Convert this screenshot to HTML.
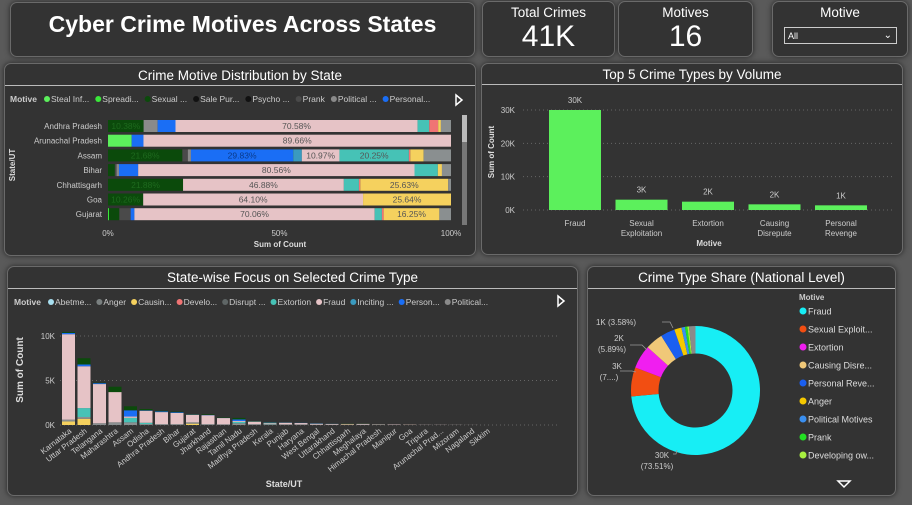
<!DOCTYPE html>
<html><head><meta charset="utf-8">
<style>
body{margin:0;width:912px;height:505px;overflow:hidden;background:#5a5a5a;font-family:"Liberation Sans",sans-serif;color:#fff;position:relative}
.p{position:absolute;background:#333;border:1px solid #6a6a6a;border-radius:7px;box-shadow:0 0 6px rgba(0,0,0,.6)}
.t{position:absolute;left:0;right:0;text-align:center;font-size:13.5px;color:#fff}
.hr{position:absolute;left:0;right:0;height:1px;background:#bbb}
svg{position:absolute;left:0;top:0}
text{font-family:"Liberation Sans",sans-serif}
</style></head><body>
<div class="p" style="left:10px;top:2px;width:463px;height:53px">
 <div class="t" style="top:8px;font-size:23px;font-weight:bold">Cyber Crime Motives Across States</div></div>
<div class="p" style="left:482px;top:1px;width:131px;height:54px">
 <div class="t" style="top:3px;font-size:13.5px">Total Crimes</div><div class="t" style="top:18px;font-size:30px">41K</div></div>
<div class="p" style="left:618px;top:1px;width:133px;height:54px">
 <div class="t" style="top:3px;font-size:13.5px">Motives</div><div class="t" style="top:18px;font-size:30px">16</div></div>
<div class="p" style="left:772px;top:1px;width:134px;height:54px">
 <div class="t" style="top:3px;font-size:13.5px">Motive</div>
 <div style="position:absolute;left:11px;top:25px;height:17px;border:1px solid #ccc;font-size:9px;line-height:17px;padding-left:3px;box-sizing:border-box;width:113px">All<span style="position:absolute;right:4px;top:-1px;font-size:10px">&#8964;</span></div></div>

<div class="p" style="left:4px;top:63px;width:470px;height:191px">
 <div class="t" style="top:4px">Crime Motive Distribution by State</div><div class="hr" style="top:21px"></div></div>
<div class="p" style="left:481px;top:63px;width:420px;height:190px">
 <div class="t" style="top:3px">Top 5 Crime Types by Volume</div><div class="hr" style="top:20px"></div></div>
<div class="p" style="left:7px;top:266px;width:569px;height:228px">
 <div class="t" style="top:3px">State-wise Focus on Selected Crime Type</div><div class="hr" style="top:21px"></div></div>
<div class="p" style="left:587px;top:266px;width:307px;height:228px">
 <div class="t" style="top:3px">Crime Type Share (National Level)</div><div class="hr" style="top:21px"></div></div>

<svg id="s" width="912" height="505"></svg>
<script>
// ---- Panel 1: 100% stacked bars
const p1States=["Andhra Pradesh","Arunachal Pradesh","Assam","Bihar","Chhattisgarh","Goa","Gujarat"];
const p1Motives=["Steal Inf","Spreading","Sexual","Prank","Political","Personal","Inciting","Fraud","Extortion","Developing","Causing","Anger"];
const p1Colors=["#5cf05c","#3ae83a","#0b4a0b","#4a4a4a","#8a8a8a","#1a6ef5","#3a9abf","#e6c3c6","#46c2b6","#f07474","#f5d15e","#8a8f90"];
const p1Pct=[
 [0,0,10.38,0,4.1,5.2,0,70.58,3.4,2.6,0.8,2.94],
 [6.9,0,0,0,0,3.44,0,89.66,0,0,0,0],
 [0,0,21.68,1.6,0.9,29.83,2.5,10.97,20.25,0.4,3.9,7.97],
 [0,0,2,0.5,0.7,5.6,0,80.56,6.8,0,1.2,2.64],
 [0,0,21.88,0,0,0,0,46.88,4.4,0.4,25.63,0.81],
 [0,0,10.26,0,0,0,0,64.10,0,0,25.64,0],
 [0,0.3,3,3.3,0,1.1,0,70.06,2.1,0.5,16.25,3.39]];
const p1Legend=["Steal Inf...","Spreadi...","Sexual ...","Sale Pur...","Psycho ...","Prank","Political ...","Personal..."];
const p1LegendColors=["#5cf05c","#3ae83a","#0b4a0b","#111","#111","#4a4a4a","#8a8a8a","#1a6ef5"];
const p1Ticks=[0,50,100];
// ---- Panel 2: top 5
const t5Cats=[["Fraud"],["Sexual","Exploitation"],["Extortion"],["Causing","Disrepute"],["Personal","Revenge"]];
const t5Vals=[30000,3100,2500,1700,1400];
const t5Labels=["30K","3K","2K","2K","1K"];
const t5Ticks=[0,10000,20000,30000];
// ---- Panel 3: state-wise stacked
const swStates=["Karnataka","Uttar Pradesh","Telangana","Maharashtra","Assam","Odisha","Andhra Pradesh","Bihar","Gujarat","Jharkhand","Rajasthan","Tamil Nadu","Madhya Pradesh","Kerala","Punjab","Haryana","West Bengal","Uttarakhand","Chhattisgarh","Meghalaya","Himachal Pradesh","Manipur","Goa","Tripura","Arunachal Prad...","Mizoram","Nagaland","Sikkim"];
const swCausing=[400,700,0,0,0,0,0,0,150,0,0,0,0,0,0,0,0,0,40,0,0,0,10,0,0,0,0,0];
const swOther=[200,200,200,300,300,100,100,100,150,100,80,200,100,100,80,80,50,60,40,60,40,30,0,10,10,10,5,0];
const swExtortion=[0,1000,0,0,500,150,0,0,0,0,0,150,0,50,0,0,0,0,0,0,0,0,0,0,0,0,0,0];
const swFraud=[9600,4700,4400,3400,150,1350,1350,1250,850,1000,700,100,280,100,180,140,100,60,40,70,40,40,30,15,15,10,5,0];
const swPersonal=[150,200,100,0,700,50,80,80,20,30,20,180,20,30,20,20,30,10,0,0,0,0,0,0,0,0,0,0];
const swSexual=[100,700,50,600,450,150,70,70,40,70,50,170,50,50,20,10,20,10,20,20,10,0,0,0,0,0,0,0];
const swSeries=[swCausing,swOther,swExtortion,swFraud,swPersonal,swSexual];
const swColors=["#f5d15e","#8a8f90","#46c2b6","#e6c3c6","#1a6ef5","#0b4a0b"];
const swTicks=[0,5000,10000];
const swTickLabels=["0K","5K","10K"];
const swLegend=["Abetme...","Anger","Causin...","Develo...","Disrupt ...","Extortion","Fraud","Inciting ...","Person...","Political..."];
const swLegendColors=["#a8dff0","#7a8080","#f5d15e","#f07474","#5f6666","#46c2b6","#e6c3c6","#3a9abf","#1a6ef5","#8a8a8a"];
// ---- Panel 4: donut
const dnNames=["Fraud","Sexual Exploit...","Extortion","Causing Disre...","Personal Reve...","Anger","Political Motives","Prank","Developing ow..."];
const dnVals=[73.51,7.3,5.89,4.4,3.58,1.8,0.9,0.6,0.4,1.62];
const dnColors=["#17eef5","#f24e12","#f01ef0","#f0c878","#1a5ff0","#f5c800","#3a8ff0","#22e022","#a8f040","#8a8a8a"];

const S=document.getElementById('s');const NS="http://www.w3.org/2000/svg";
function mk(t,a,txt){const e=document.createElementNS(NS,t);for(const k in a)e.setAttribute(k,a[k]);if(txt!==undefined)e.textContent=txt;S.appendChild(e);return e;}

// Panel1
const x1=v=>108+v/100*343; const y1=i=>120+i*14.7;
mk('text',{x:10,y:102,'font-size':8.5,'font-weight':'bold',fill:'#ccc'},'Motive');
let lx=44;
p1Legend.forEach((n,i)=>{const c=mk('circle',{cx:lx+3,cy:99,r:3,fill:p1LegendColors[i]});

const t=mk('text',{x:lx+7,y:102,'font-size':8.5,fill:'#ccc'},n);lx+=t.getComputedTextLength()+13;});
mk('path',{d:'M456 95 L462 100 L456 105 Z',fill:'none',stroke:'#fff','stroke-width':1.5});
mk('rect',{x:462,y:115,width:5,height:110,fill:'#777'});mk('rect',{x:462,y:115,width:5,height:27,fill:'#bbb'});
p1States.forEach((st,i)=>{const y=y1(i);
 const l=mk('text',{x:102,y:y+9,'font-size':8,'text-anchor':'end',fill:'#ccc'},st);
 let acc=0;p1Pct[i].forEach((v,k)=>{if(v<=0)return;const r=mk('rect',{x:x1(acc),y:y,width:x1(acc+v)-x1(acc),height:12,fill:p1Colors[k]});
 
 if(v>9){mk('text',{x:(x1(acc)+x1(acc+v))/2,y:y+9,'font-size':8.5,'text-anchor':'middle',fill:k==2?'#1e6a1e':(k==5?'#0a3a8a':'#555')},v.toFixed(2)+'%');}
 acc+=v;});});
p1Ticks.forEach(v=>mk('text',{x:x1(v),y:236,'font-size':8,'text-anchor':'middle',fill:'#ccc'},v+'%'));
mk('text',{x:280,y:247,'font-size':8,'font-weight':'bold','text-anchor':'middle',fill:'#ddd'},'Sum of Count');
mk('text',{x:0,y:0,'font-size':8,'font-weight':'bold','text-anchor':'middle',fill:'#ddd',transform:'translate(15,165) rotate(-90)'},'State/UT');

// Panel2
const y2=v=>210-v/30000*100; const x2=i=>549+i*66.5;
t5Ticks.forEach((v,i)=>{mk('line',{x1:523,x2:895,y1:y2(v),y2:y2(v),stroke:'#666','stroke-dasharray':'1 3'});
 mk('text',{x:515,y:y2(v)+3,'font-size':8,'text-anchor':'end',fill:'#ccc'},(v/1000)+'K');});
t5Vals.forEach((v,i)=>{const r=mk('rect',{x:x2(i),y:y2(v),width:52,height:210-y2(v),fill:'#5cf05c'});
 
 mk('text',{x:x2(i)+26,y:y2(v)-7,'font-size':8,'text-anchor':'middle',fill:'#ccc'},t5Labels[i]);
 t5Cats[i].forEach((ln,j)=>mk('text',{x:x2(i)+26,y:226+j*10,'font-size':8,'text-anchor':'middle',fill:'#ccc'},ln));});
mk('text',{x:709,y:246,'font-size':8,'font-weight':'bold','text-anchor':'middle',fill:'#ddd'},'Motive');
mk('text',{x:0,y:0,'font-size':8,'font-weight':'bold','text-anchor':'middle',fill:'#ddd',transform:'translate(494,152) rotate(-90)'},'Sum of Count');

// Panel3
const y3=v=>425-v/10000*89; const x3=i=>62+i*15.5;
mk('text',{x:14,y:305,'font-size':8.5,'font-weight':'bold',fill:'#ccc'},'Motive');
lx=48;swLegend.forEach((n,i)=>{const c=mk('circle',{cx:lx+3,cy:302,r:3,fill:swLegendColors[i]});

const t=mk('text',{x:lx+7,y:305,'font-size':8.5,fill:'#ccc'},n);lx+=t.getComputedTextLength()+12;});
mk('path',{d:'M558 296 L564 301 L558 306 Z',fill:'none',stroke:'#fff','stroke-width':1.5});
swTicks.forEach((v,i)=>{mk('line',{x1:60,x2:560,y1:y3(v),y2:y3(v),stroke:'#666','stroke-dasharray':'1 3'});
 mk('text',{x:55,y:y3(v)+3,'font-size':8,'text-anchor':'end',fill:'#ccc'},swTickLabels[i]);});
swStates.forEach((st,i)=>{let acc=0;swSeries.forEach((ser,k)=>{const v=ser[i];if(v<=0)return;
 const r=mk('rect',{x:x3(i),y:y3(acc+v),width:13,height:y3(acc)-y3(acc+v),fill:swColors[k]});
 acc+=v;});
 const cx=x3(i)+7;const t=mk('text',{x:0,y:0,'font-size':8,'text-anchor':'end',fill:'#ccc',transform:`translate(${cx+3},${432}) rotate(-38)`},st);
 });
mk('text',{x:284,y:487,'font-size':9,'font-weight':'bold','text-anchor':'middle',fill:'#ddd'},'State/UT');
mk('text',{x:0,y:0,'font-size':10,'font-weight':'bold','text-anchor':'middle',fill:'#ddd',transform:'translate(23,370) rotate(-90)'},'Sum of Count');

// Panel4 donut
const cx=695.5,cy=390.5,R=64.5,r0=37;const tot=dnVals.reduce((a,b)=>a+b,0);let a0=0;
dnVals.forEach((v,i)=>{const a1=a0+v/tot*2*Math.PI;const pt=(rr,a)=>[cx+rr*Math.sin(a),cy-rr*Math.cos(a)];
 const [p1x,p1y]=pt(R,a0),[p2x,p2y]=pt(R,a1),[p3x,p3y]=pt(r0,a1),[p4x,p4y]=pt(r0,a0);const lg=(a1-a0)>Math.PI?1:0;
 const p=mk('path',{d:`M${p1x} ${p1y} A${R} ${R} 0 ${lg} 1 ${p2x} ${p2y} L${p3x} ${p3y} A${r0} ${r0} 0 ${lg} 0 ${p4x} ${p4y}Z`,fill:dnColors[i]});
 a0=a1;});
const lab=[["1K (3.58%)",616,325],["2K",619,341],["(5.89%)",612,352],["3K",617,369],["(7....)",609,380],["30K",662,458],["(73.51%)",657,469]];
lab.forEach(l=>mk('text',{x:l[1],y:l[2],'font-size':8,'text-anchor':'middle',fill:'#ccc'},l[0]));
mk('path',{d:'M662 322 L670 322 L673 328 M630 345 L642 345 L647 350 M620 371 L632 371 L636 372 M673 454 L676 454 L677 450',fill:'none',stroke:'#999','stroke-width':0.8});
mk('text',{x:799,y:300,'font-size':8,'font-weight':'bold',fill:'#ccc'},'Motive');
dnNames.forEach((n,i)=>{const y=311+i*18;const c=mk('circle',{cx:803,cy:y,r:3.5,fill:dnColors[i]});
 
 const t=mk('text',{x:808,y:y+3.5,'font-size':9,fill:'#ddd'},n);});
mk('path',{d:'M838 481 L850 481 L844 487 Z',fill:'none',stroke:'#fff','stroke-width':1.5});
</script>
</body></html>
